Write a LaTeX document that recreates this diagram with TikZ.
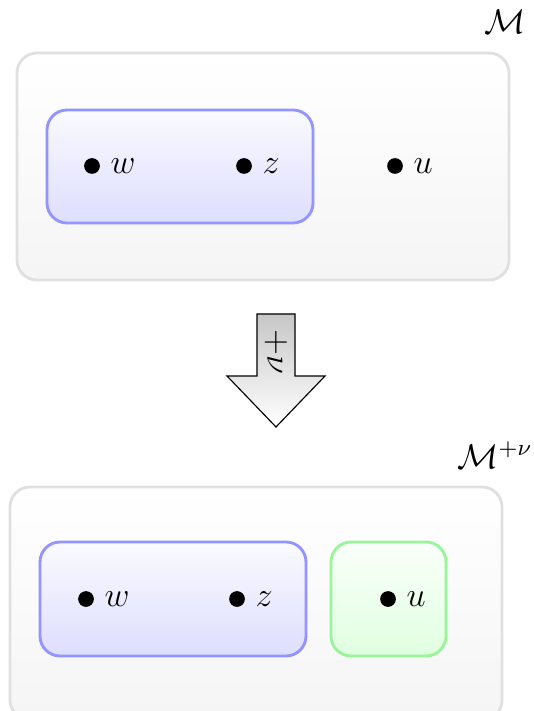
\documentclass[tikz,border=0pt]{standalone}
\definecolor{outerline}{HTML}{E0E0E0}
\definecolor{blueline}{HTML}{9494FF}
\definecolor{greenline}{HTML}{99F599}
\begin{document}
\begin{tikzpicture}[x=0.35pt,y=-0.35pt,font=\large,
  outerbox/.style={draw=outerline,line width=1pt,rounded corners=7pt,top color=white,bottom color=black!4},
  bluebox/.style={draw=blueline,line width=1pt,rounded corners=7pt,top color=blue!2,bottom color=blue!13},
  greenbox/.style={draw=greenline,line width=1pt,rounded corners=7pt,top color=green!2,bottom color=green!12},
  pt/.style={circle,fill=black,inner sep=0pt,minimum size=5.5pt},
  lbl/.style={anchor=west,inner sep=0pt}]
\useasboundingbox (0,0) rectangle (533,711);
% top
\node (M) at (505,22) {$\mathcal{M}$};
\draw[outerbox] (17,53) rectangle (509,280);
\draw[bluebox] (47,110) rectangle (313,223);
\node[pt] (w1) at (92,166) {};
\node[lbl] (w1l) at (110,166) {$w$};
\node[pt] (z1) at (244,166) {};
\node[lbl] (z1l) at (262,166) {$z$};
\node[pt] (u1) at (395,166) {};
\node[lbl] (u1l) at (413,166) {$u$};
% arrow
\draw[top color=black!22,bottom color=white,line width=0.4pt]
  (257,314) -- (295,314) -- (295,376) -- (325,376) -- (276,427) -- (227,376) -- (257,376) -- cycle;
\node[rotate=-90] (lab) at (276,352) {$+\nu$};
% bottom
\node (M2) at (495,455) {$\mathcal{M}^{+\nu}$};
\draw[outerbox] (10,487) rectangle (502,720);
\draw[bluebox] (40,542) rectangle (306,656);
\draw[greenbox] (331,542) rectangle (446,656);
\node[pt] (w2) at (86,599) {};
\node[lbl] (w2l) at (104,599) {$w$};
\node[pt] (z2) at (237,599) {};
\node[lbl] (z2l) at (255,599) {$z$};
\node[pt] (u2) at (388,599) {};
\node[lbl] (u2l) at (406,599) {$u$};
\end{tikzpicture}
\end{document}
